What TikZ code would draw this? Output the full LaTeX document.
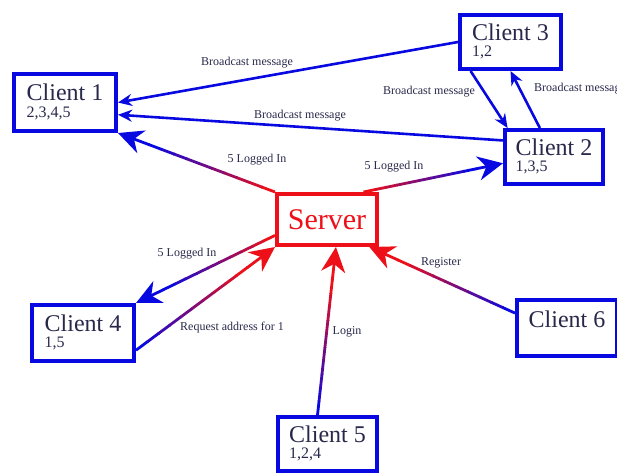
\documentclass[tikz,border=0pt]{standalone}
\usepackage{fontspec}
\setmainfont{Liberation Serif}
\usepackage{tikz}
\usetikzlibrary{arrows.meta,calc}
\definecolor{client_blue}{RGB}{8,8,225}
\definecolor{server_red}{RGB}{238,16,24}
\definecolor{label_ink}{RGB}{40,40,75}

% client box text: name, then the clients it knows
\newcommand{\client}[2]{\begin{tabular}{@{}l@{}}{\fontsize{24}{26}\selectfont Client #1}\\[2pt]{\fontsize{16}{17}\selectfont #2}\end{tabular}}

% line that fades from one colour to the other, tip in the last one
\newcommand{\fadelink}[4]{%
  \foreach \k in {0,...,9}{%
    \pgfmathsetmacro{\ka}{\k*0.08}%
    \pgfmathsetmacro{\kb}{(\k+1)*0.08+0.005}%
    \pgfmathtruncatemacro{\kc}{\k*100/9}%
    \draw[fadeline,#4!\kc!#3] ($(#1)!\ka!(#2)$) -- ($(#1)!\kb!(#2)$);%
  }%
  \draw[fadeline,fadetip,#4] ($(#1)!0.8!(#2)$) -- (#2);%
}

\begin{document}
\begin{tikzpicture}[x=1pt,y=-1pt,
    client/.style 2 args={draw=client_blue,line width=4pt,fill=white,text=label_ink,
                          minimum width=#1,minimum height=#2,inner sep=0pt},
    server/.style={draw=server_red,line width=4pt,fill=white,text=server_red,
                   minimum width=100pt,minimum height=51pt,inner sep=0pt,
                   font=\fontsize{30}{32}\selectfont},
    bcast/.style={draw=client_blue,line width=2.6pt,-{Stealth[length=14pt,width=12pt]}},
    fadeline/.style={line width=2.8pt},
    fadetip/.style={-{Stealth[length=25pt,width=24pt,inset=8pt]}},
    msg/.style={text=label_ink,inner sep=1pt,font=\fontsize{12}{14}\selectfont}]
  \useasboundingbox (0,0) rectangle (617,474);
  \clip (0,0) rectangle (617,474);

  \node[client={102pt}{57pt}] (c1) at (65,102.5)  {\client{1}{2,3,4,5}};
  \node[client={101pt}{54pt}] (c3) at (510.5,42)  {\client{3}{1,2}};
  \node[client={98pt}{54pt}]  (c2) at (554,157)   {\client{2}{1,3,5}};
  \node[server]               (srv) at (327,219.5) {Server};
  \node[client={102pt}{56pt}] (c4) at (83,333)    {\client{4}{1,5}};
  \node[client={99pt}{54pt}]  (c5) at (327.5,444) {\client{5}{1,2,4}};
  \node[client={100pt}{56pt}] (c6) at (567,328)   {\client{6}{}};

  % broadcasts between clients
  \draw[bcast] (c3.west) -- (c1.east);
  \draw[bcast] (c2.162) -- (c1.347);
  \draw[bcast] (c3.216) -- (c2.148);
  \draw[bcast] (c2.116) -- (c3.south);

  % server traffic
  \fadelink{srv.north west}{c1.south east}{server_red}{client_blue}
  \fadelink{srv.37}{c2.187}{server_red}{client_blue}
  \fadelink{srv.197}{c4.north east}{server_red}{client_blue}
  \fadelink{c4.342}{srv.south west}{client_blue}{server_red}
  \fadelink{c5.109}{srv.288}{client_blue}{server_red}
  \fadelink{c6.164}{srv.327}{client_blue}{server_red}

  \node[msg] (b31) at (247,63)  {Broadcast message};
  \node[msg] (b21) at (300,116) {Broadcast message};
  \node[msg] (b32) at (429,92)  {Broadcast message};
  \node[msg,anchor=west] (b23) at (533,89) {Broadcast message};
  \node[msg] (li1) at (257,160) {5 Logged In};
  \node[msg] (li2) at (394,167) {5 Logged In};
  \node[msg] (li4) at (187,254) {5 Logged In};
  \node[msg] (req) at (232,328) {Request address for 1};
  \node[msg] (lgn) at (347,332) {Login};
  \node[msg] (reg) at (441,263) {Register};
\end{tikzpicture}
\end{document}
